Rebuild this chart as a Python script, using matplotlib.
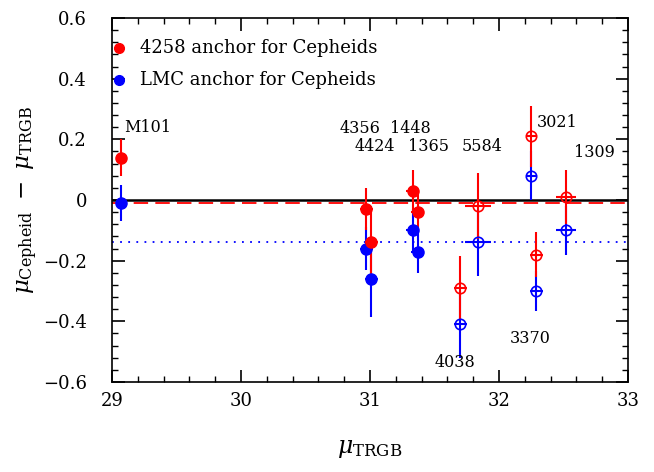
import matplotlib
matplotlib.use('Agg')
import matplotlib.pyplot as plt
from matplotlib.ticker import MultipleLocator

plt.rcParams['font.family'] = 'DejaVu Serif'
plt.rcParams['mathtext.fontset'] = 'dejavuserif'

# galaxy names and TRGB distance moduli
names = ['M101', '4356', '4424', '1448', '1365', '4038', '5584', '3021', '3370', '1309']
mu_trgb = [29.07, 30.97, 31.01, 31.33, 31.37, 31.70, 31.84, 32.25, 32.29, 32.52]
xerr = [0.03, 0.05, 0.05, 0.05, 0.05, 0.05, 0.10, 0.04, 0.05, 0.08]
filled = [True, True, True, True, True, False, False, False, False, False]

# Cepheid - TRGB with the NGC 4258 anchor
d_4258 = [0.14, -0.03, -0.14, 0.03, -0.04, -0.29, -0.02, 0.21, -0.18, 0.01]
e_4258 = [0.06, 0.07, 0.12, 0.07, 0.07, 0.105, 0.11, 0.10, 0.075, 0.09]

# Cepheid - TRGB with the LMC anchor
d_lmc = [-0.01, -0.16, -0.26, -0.10, -0.17, -0.41, -0.14, 0.08, -0.30, -0.10]
e_lmc = [0.06, 0.07, 0.125, 0.07, 0.07, 0.11, 0.11, 0.08, 0.065, 0.08]

mean_4258 = -0.01
mean_lmc = -0.14

# label positions (x, y)
lab_x = [29.28, 30.92, 31.04, 31.31, 31.45, 31.66, 31.87, 32.45, 32.24, 32.74]
lab_y = [0.238, 0.235, 0.175, 0.235, 0.175, -0.535, 0.175, 0.257, -0.455, 0.158]

fig = plt.figure(figsize=(6.54, 4.72), dpi=100)
ax = fig.add_axes([112/654, 1 - 382/472, 516/654, 364/472])

ax.axhline(0, color='black', lw=1.8, zorder=1)
ax.axhline(mean_4258, color='red', lw=1.3, ls=(0, (8, 4)), zorder=1)
ax.axhline(mean_lmc, color='blue', lw=1.3, ls=(0, (1, 3.5)), zorder=1)

for d, e, col in [(d_lmc, e_lmc, 'blue'), (d_4258, e_4258, 'red')]:
    for i in range(len(names)):
        if filled[i]:
            ax.errorbar(mu_trgb[i], d[i], yerr=e[i], xerr=xerr[i], fmt='o', color=col,
                        ms=8, elinewidth=1.5, capsize=0, zorder=3)
        else:
            ax.errorbar(mu_trgb[i], d[i], yerr=e[i], xerr=xerr[i], fmt='o', color=col,
                        mfc='none', mec=col, mew=1.2, ms=7.5, elinewidth=1.5,
                        capsize=0, zorder=3)

for i in range(len(names)):
    ax.text(lab_x[i], lab_y[i], names[i], ha='center', va='center', fontsize=11.5)

# legend drawn by hand like the original
ax.plot([29.055], [0.5], 'o', color='red', ms=7, clip_on=False)
ax.text(29.22, 0.5, '4258 anchor for Cepheids', va='center', fontsize=13)
ax.plot([29.055], [0.395], 'o', color='blue', ms=7, clip_on=False)
ax.text(29.22, 0.395, 'LMC anchor for Cepheids', va='center', fontsize=13)

ax.set_xlim(29, 33)
ax.set_ylim(-0.6, 0.6)
ax.xaxis.set_major_locator(MultipleLocator(1))
ax.xaxis.set_minor_locator(MultipleLocator(0.2))
ax.yaxis.set_major_locator(MultipleLocator(0.2))
ax.yaxis.set_minor_locator(MultipleLocator(0.04))
ax.tick_params(which='both', direction='in', top=True, right=True, labelsize=13)
ax.tick_params(which='major', length=9, width=1.2)
ax.tick_params(which='minor', length=4.5, width=1)
ax.tick_params(axis='x', pad=7)
ax.tick_params(axis='y', pad=18)
ax.set_yticks([-0.6, -0.4, -0.2, 0, 0.2, 0.4, 0.6])
ax.set_yticklabels(['\u22120.6', '\u22120.4', '\u22120.2', '0', '0.2', '0.4', '0.6'])
for s in ax.spines.values():
    s.set_linewidth(1.2)

ax.set_xlabel(r'$\mu_{\rm TRGB}$', fontsize=17, labelpad=20)
ax.set_ylabel(r'$\mu_{\rm Cepheid}\ -\ \mu_{\rm TRGB}$', fontsize=16.5, labelpad=2)

fig.savefig('out.png', dpi=100)
